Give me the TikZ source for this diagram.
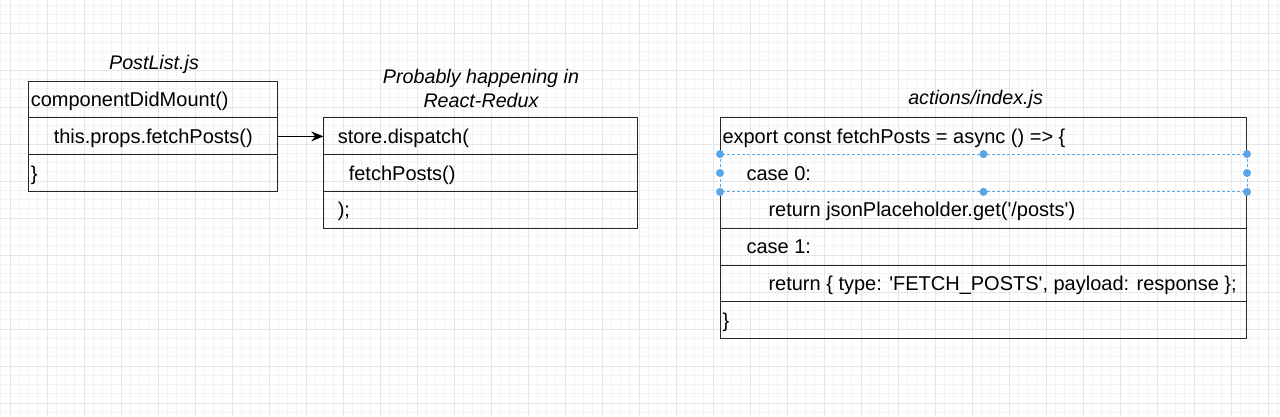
\documentclass[tikz,border=0pt]{standalone}
\usepackage{fontspec}
\setmainfont{Liberation Sans}
\usetikzlibrary{arrows.meta,positioning}
\definecolor{gridmajor}{HTML}{E6E6E6}
\definecolor{gridminor}{HTML}{F3F3F3}
\definecolor{selblue}{HTML}{5AA5E8}
\newcommand{\sq}{\textquotesingle}
\tikzset{
	codefont/.style={font=\fontsize{20}{24}\selectfont},
	row/.style={draw=black!85, line width=1pt, minimum height=36.8pt, inner xsep=0pt, inner ysep=0pt, text height=14pt, text depth=0pt, anchor=north west, codefont},
	filetitle/.style={font=\fontsize{19.7}{24}\selectfont\itshape, align=center},
	handle/.style={fill=selblue}
}
\begin{document}
\begin{tikzpicture}[x=1pt, y=-1pt]
			\useasboundingbox (0, 0) rectangle (1280, 417);
			\fill[white] (0, 0) rectangle (1280, 417);
			
			% grid
			\foreach \x in {0.75,10,...,1280} \draw[gridminor, line width=0.8pt] (\x, 0) -- (\x, 417);
			\foreach \y in {5.25,14.5,...,417} \draw[gridminor, line width=0.8pt] (0, \y) -- (1280, \y);
			\foreach \x in {10,47,...,1280} \draw[gridmajor, line width=0.8pt] (\x, 0) -- (\x, 417);
			\foreach \y in {33,70,...,417} \draw[gridmajor, line width=0.8pt] (0, \y) -- (1280, \y);
			
			\node[filetitle, anchor=base] (pltitle) at (154, 70) {PostList.js};
			\node[row] (pl1) at (28.3, 80.7) {\makebox[248.7pt][l]{\hspace*{2pt}componentDidMount()}};
			\node[row] (pl2) at (28.3, 117.5) {\makebox[248.7pt][l]{\hspace*{25pt}this.props.fetchPosts()}};
			\node[row] (pl3) at (28.3, 154.3) {\makebox[248.7pt][l]{\hspace*{2pt}\}}};
			
			\node[filetitle] (rrtitle) at (481, 88.8) {Probably happening in\\React-Redux};
			\node[row] (rr1) at (323.3, 117.3) {\makebox[314pt][l]{\hspace*{14pt}store.dispatch(}};
			\node[row] (rr2) at (323.3, 154.1) {\makebox[314pt][l]{\hspace*{25pt}fetchPosts()}};
			\node[row] (rr3) at (323.3, 190.9) {\makebox[314pt][l]{\hspace*{14pt});}};
			
			\draw[-{Stealth[length=12pt, width=10pt]}, line width=1pt] (pl2.east) -- (pl2.east -| rr1.west);
			
			\node[filetitle, anchor=base] (actitle) at (975.6, 105) {actions/index.js};
			\node[row] (ac1) at (720, 117.3) {\makebox[526pt][l]{\hspace*{2pt}export const fetchPosts = async () => \{}};
			\node[row] (ac2) at (720, 154.1) {\makebox[526pt][l]{\hspace*{26pt}case 0:}};
			\node[row] (ac3) at (720, 190.9) {\makebox[526pt][l]{\hspace*{48pt}return jsonPlaceholder.get(\sq/posts\sq)}};
			\node[row] (ac4) at (720, 227.7) {\makebox[526pt][l]{\hspace*{26pt}case 1:}};
			\node[row] (ac5) at (720, 264.5) {\makebox[526pt][l]{\hspace*{48pt}return \{ type: \sq FETCH\_POSTS\sq, payload: response \};}};
			\node[row] (ac6) at (720, 301.3) {\makebox[526pt][l]{\hspace*{2pt}\}}};
			
			% selection
			\draw[white, line width=1.6pt] (ac2.north west) rectangle (ac2.south east);
			\draw[selblue, line width=1pt, dash pattern=on 3pt off 2pt] (ac2.north west) rectangle (ac2.south east);
			\foreach \a in {north west, north, north east, west, east, south west, south, south east}
				\fill[handle] (ac2.\a) circle (4pt);
		\end{tikzpicture}
\end{document}
